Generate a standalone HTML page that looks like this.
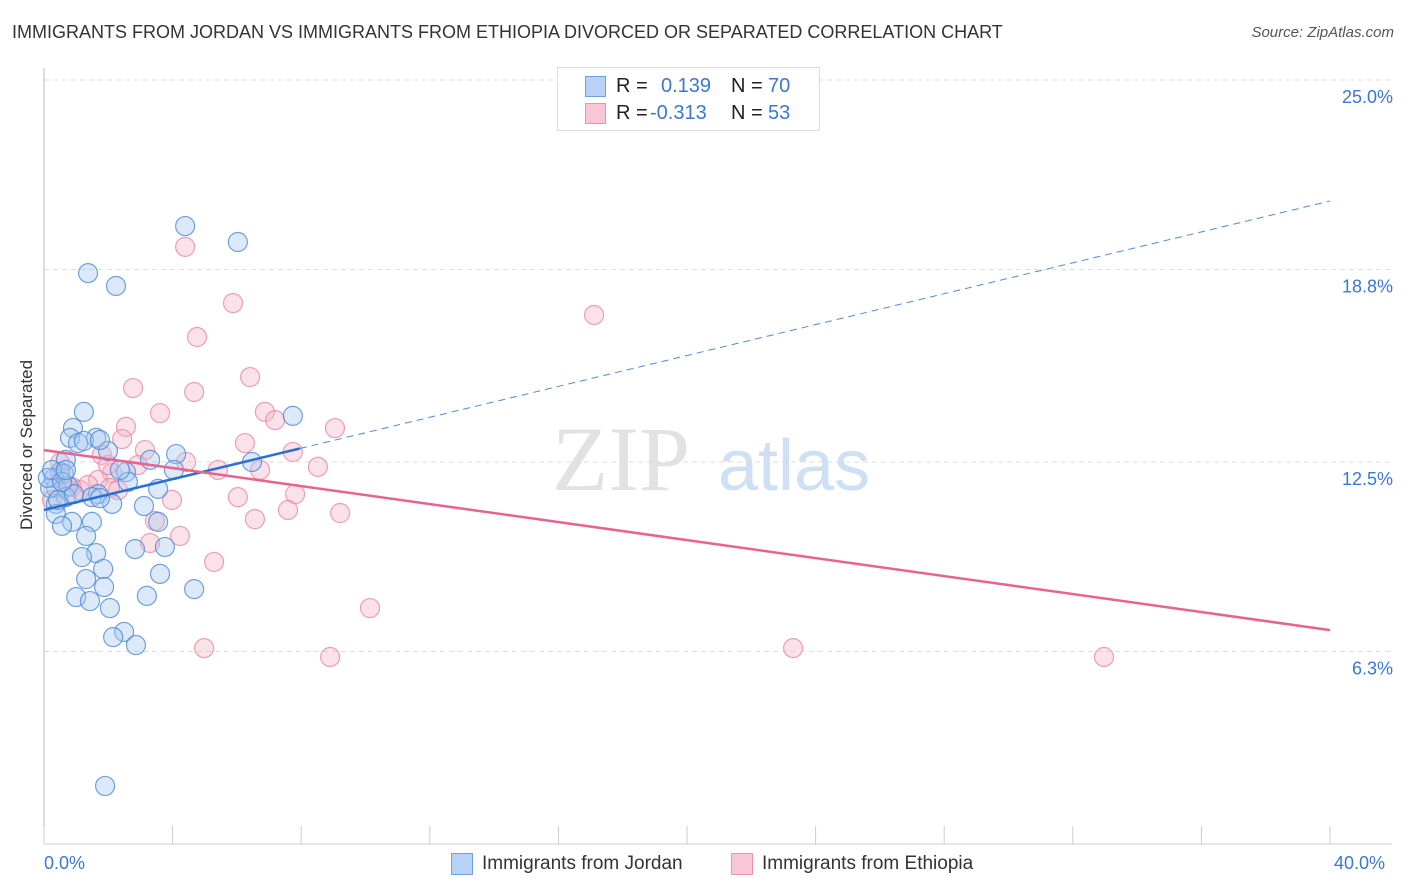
<!DOCTYPE html>
<html><head><meta charset="utf-8"><style>
body{margin:0;background:#fff;font-family:"Liberation Sans",sans-serif;}
#wrap{position:relative;width:1406px;height:892px;overflow:hidden;}
.t{position:absolute;white-space:nowrap;}
</style></head><body>
<div id="wrap">
<div class="t" style="left:12px;top:22px;font-size:18px;color:#333;">IMMIGRANTS FROM JORDAN VS IMMIGRANTS FROM ETHIOPIA DIVORCED OR SEPARATED CORRELATION CHART</div>
<div class="t" style="right:12px;top:24px;font-size:15px;color:#555;font-style:italic;">Source: ZipAtlas.com</div>
<div class="t" style="left:-48px;top:445px;font-size:17px;color:#333;transform:rotate(-90deg);width:150px;text-align:center;">Divorced or Separated</div>
<svg id="plot" width="1406" height="892" style="position:absolute;left:0;top:0"></svg>
<div style="position:absolute;left:557px;top:67px;width:261px;height:62px;border:1px solid #ddd;background:#fff;font-size:20px;">
<div style="position:absolute;left:27px;top:8px;width:19px;height:19px;background:#b7d2f6;border:1px solid #6fa0e0"></div>
<div class="t" style="left:58px;top:7px;color:#222">R =</div>
<div class="t" style="left:103px;top:7px;color:#3a78d4">0.139</div>
<div class="t" style="left:173px;top:7px;color:#222">N =</div>
<div class="t" style="left:210px;top:7px;color:#3a78d4">70</div>
<div style="position:absolute;left:27px;top:35px;width:19px;height:19px;background:#f8c6d4;border:1px solid #eb92ad"></div>
<div class="t" style="left:58px;top:34px;color:#222">R =</div>
<div class="t" style="left:92px;top:34px;color:#3a78d4">-0.313</div>
<div class="t" style="left:173px;top:34px;color:#222">N =</div>
<div class="t" style="left:210px;top:34px;color:#3a78d4">53</div>
</div>
<div style="position:absolute;left:451px;top:853px;width:20px;height:20px;background:#b7d2f6;border:1px solid #6fa0e0"></div>
<div class="t" style="left:482px;top:853px;font-size:19px;color:#333">Immigrants from Jordan</div>
<div style="position:absolute;left:731px;top:853px;width:20px;height:20px;background:#f8c6d4;border:1px solid #eb92ad"></div>
<div class="t" style="left:762px;top:853px;font-size:19px;color:#333">Immigrants from Ethiopia</div>
<div class="t" style="left:44px;top:853px;font-size:18px;color:#3a78d4">0.0%</div>
<div class="t" style="left:1334px;top:853px;font-size:18px;color:#3a78d4">40.0%</div>
</div>
<script>
const blueX=[4.39,6.03,1.37,2.24,1.24,7.74,0.90,0.81,1.62,1.06,1.24,1.99,4.11,0.68,6.47,2.55,4.04,0.50,0.62,0.31,0.37,0.75,1.68,1.49,3.55,2.61,2.12,3.11,0.68,0.37,0.37,0.87,1.49,0.56,1.31,3.55,2.83,3.76,1.62,1.18,1.84,1.31,3.61,1.87,4.67,1.00,1.43,3.20,2.05,2.49,2.15,2.86,1.90,0.19,0.12,0.25,0.44,0.93,1.74,0.56,0.68,2.36,3.30,1.74];
const blueY=[20.22,19.70,18.68,18.26,14.14,14.01,13.61,13.29,13.29,13.12,13.19,12.86,12.76,12.57,12.50,12.17,12.24,12.17,12.11,11.98,11.65,11.71,11.45,11.35,11.62,11.85,11.13,11.06,11.35,11.13,10.80,10.54,10.54,10.41,10.08,10.54,9.65,9.72,9.52,9.39,9.00,8.67,8.84,8.41,8.34,8.08,7.95,8.12,7.72,6.94,6.77,6.51,1.90,11.65,11.98,12.24,11.26,11.45,11.32,11.85,12.24,12.24,12.57,13.22];
const pinkX=[4.39,5.88,4.76,17.11,2.77,6.41,4.67,3.61,6.87,7.19,9.05,2.55,2.43,6.25,3.14,7.74,1.80,0.50,8.52,2.92,5.41,6.72,2.12,1.68,0.87,2.05,1.12,2.30,6.03,7.81,3.98,7.59,9.21,6.56,3.45,3.30,4.23,5.29,10.14,4.98,8.90,23.30,32.97,0.50,0.68,0.25,1.37,4.42,1.99];
const pinkY=[19.54,17.70,16.59,17.31,14.92,15.28,14.79,14.10,14.14,13.87,13.61,13.65,13.25,13.12,12.89,12.83,12.73,12.47,12.34,12.40,12.24,12.24,12.14,11.91,11.68,11.65,11.58,11.58,11.35,11.45,11.26,10.93,10.83,10.63,10.57,9.85,10.08,9.23,7.72,6.41,6.12,6.41,6.12,12.07,11.65,11.26,11.75,12.50,12.40];
const yTicks=[25.0,18.8,12.5,6.3];
const yTickLabels=["25.0%","18.8%","12.5%","6.3%"];
const blueTrend=[10.93,21.04]; // at x=0 and x=40
const blueSolidEnd=7.96;
const pinkTrend=[12.89,7.0];
const X0=44,X1=1330,XMAX=40,Y0=844,PPY=30.56;
const sx=v=>X0+v/XMAX*(X1-X0);
const sy=v=>Y0-v*PPY;
const svg=document.getElementById('plot');
const NS='http://www.w3.org/2000/svg';
function mk(tag,attrs){const e=document.createElementNS(NS,tag);for(const k in attrs)e.setAttribute(k,attrs[k]);svg.appendChild(e);return e;}
// watermark
let w=mk('text',{x:552,y:490,'font-size':92,fill:'#e2e2e2','font-family':'Liberation Serif, serif'});w.textContent='ZIP';


let w2=mk('text',{x:718,y:490,'font-size':72,fill:'#cfe0f4','font-family':'Liberation Sans, sans-serif'});w2.textContent='atlas';


yTicks.forEach((t,i)=>{
 const g=mk('line',{x1:X0,x2:1392,y1:sy(t),y2:sy(t),stroke:'#ddd','stroke-dasharray':'5,4'});
 
 
 const l=mk('text',{x:1393,y:sy(t)+23,'text-anchor':'end','font-size':18,fill:'#3a78d4','font-family':'Liberation Sans, sans-serif'});
 l.textContent=yTickLabels[i];
 
 
});
let ax=mk('line',{x1:X0,x2:X0,y1:68,y2:Y0,stroke:'#bbb'});


let bx=mk('line',{x1:X0,x2:1392,y1:Y0,y2:Y0,stroke:'#ccc'});


for(let i=0;i<=10;i++){const x=sx(i*4);const tk=mk('line',{x1:x,x2:x,y1:826,y2:Y0,stroke:'#ccc'});

}
function pts(xs,ys,fill,stroke,name){xs.forEach((x,i)=>{const c=mk('circle',{cx:sx(x),cy:sy(ys[i]),r:9.5,fill:fill,'fill-opacity':0.4,stroke:stroke,'stroke-opacity':0.8,'stroke-width':1.2});

});}
pts(pinkX,pinkY,'#f4b3c6','#e88aa6','point-ethiopia');
pts(blueX,blueY,'#a8c8f0','#4f8ad8','point-jordan');
const by=x=>blueTrend[0]+(blueTrend[1]-blueTrend[0])*x/XMAX;
let b1=mk('line',{x1:sx(0),y1:sy(by(0)),x2:sx(blueSolidEnd),y2:sy(by(blueSolidEnd)),stroke:'#2a6fd6','stroke-width':2.5});


let b2=mk('line',{x1:sx(blueSolidEnd),y1:sy(by(blueSolidEnd)),x2:sx(40),y2:sy(by(40)),stroke:'#4f8ad8','stroke-width':1,'stroke-dasharray':'7,5'});


let p1=mk('line',{x1:sx(0),y1:sy(pinkTrend[0]),x2:sx(40),y2:sy(pinkTrend[1]),stroke:'#e8638e','stroke-width':2.5});


</script>
</body></html>
